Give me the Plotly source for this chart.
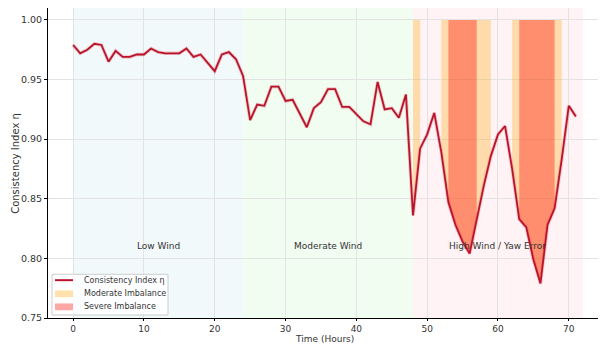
import plotly.graph_objects as go

# ---- data ----
hours = list(range(72))
eta = [0.979, 0.972, 0.975, 0.980, 0.979, 0.965, 0.974, 0.969, 0.969, 0.971,
       0.971, 0.976, 0.973, 0.972, 0.972, 0.972, 0.976, 0.969, 0.971, 0.964,
       0.957, 0.971, 0.973, 0.967, 0.953, 0.916, 0.929, 0.928, 0.944, 0.944,
       0.932, 0.933, 0.922, 0.910, 0.926, 0.931, 0.942, 0.942, 0.927, 0.927,
       0.921, 0.915, 0.9125, 0.948, 0.925, 0.926, 0.918, 0.9375, 0.836, 0.892,
       0.904, 0.922, 0.889, 0.847, 0.828, 0.814, 0.804, 0.833, 0.861, 0.886,
       0.904, 0.911, 0.875, 0.833, 0.826, 0.799, 0.779, 0.828, 0.842, 0.883,
       0.928, 0.919]

moderate_threshold = 0.90
severe_threshold = 0.85
fill_top = 1.0

regime_names = ["Low Wind", "Moderate Wind", "High Wind / Yaw Error"]
regime_starts = [0, 24, 48]
regime_ends = [24, 48, 72]
regime_colors = ["rgba(173,216,230,0.16)", "rgba(144,238,144,0.12)", "rgba(255,182,193,0.17)"]
regime_label_y = 0.81

x_ticks = [0, 10, 20, 30, 40, 50, 60, 70]
y_ticks = [0.75, 0.80, 0.85, 0.90, 0.95, 1.00]

legend_labels = ["Consistency Index η", "Moderate Imbalance", "Severe Imbalance"]

FONT = "DejaVu Sans"
LINE_COLOR = "#B8142C"
MOD_COLOR = "rgba(255,165,0,0.30)"
SEV_COLOR = "rgba(255,0,0,0.35)"


def runs(mask):
    out, cur = [], []
    for i, m in enumerate(mask):
        if m:
            cur.append(i)
        else:
            if cur:
                out.append(cur)
            cur = []
    if cur:
        out.append(cur)
    return [r for r in out if len(r) >= 2]


fig = go.Figure()


def add_band(threshold, color, name):
    for r in runs([v < threshold for v in eta]):
        xs = [hours[i] for i in r] + [hours[i] for i in reversed(r)]
        ys = [eta[i] for i in r] + [fill_top] * len(r)
        fig.add_trace(go.Scatter(
            x=xs, y=ys, fill="toself", fillcolor=color, mode="lines",
            line=dict(width=0, color=color), name=name,
            showlegend=False, hoverinfo="skip"))


add_band(moderate_threshold, MOD_COLOR, legend_labels[1])
add_band(severe_threshold, SEV_COLOR, legend_labels[2])

fig.add_trace(go.Scatter(x=hours, y=eta, mode="lines", showlegend=False,
                         line=dict(color="rgba(220,40,60,0.25)", width=3.5), hoverinfo="skip"))
fig.add_trace(go.Scatter(x=hours, y=eta, mode="lines", name=legend_labels[0],
                         line=dict(color=LINE_COLOR, width=1.8), showlegend=False))

shapes = []
for s, e, c in zip(regime_starts, regime_ends, regime_colors):
    shapes.append(dict(type="rect", xref="x", yref="paper", x0=s, x1=e, y0=0, y1=1,
                       fillcolor=c, line=dict(width=0), layer="below"))

# compact legend box (paper coordinates)
shapes.append(dict(type="rect", xref="paper", yref="paper", x0=0.0072, x1=0.217,
                   y0=0.0096, y1=0.141, fillcolor="rgba(255,255,255,0.85)",
                   line=dict(color="#cccccc", width=1), layer="above"))
entry_y = [0.122, 0.078, 0.036]
sw_x0, sw_x1 = 0.0127, 0.0452
shapes.append(dict(type="line", xref="paper", yref="paper", x0=sw_x0, x1=sw_x1,
                   y0=entry_y[0], y1=entry_y[0], line=dict(color=LINE_COLOR, width=2),
                   layer="above"))
for ey, col in zip(entry_y[1:], ["rgba(255,165,0,0.33)", "rgba(255,0,0,0.35)"]):
    shapes.append(dict(type="rect", xref="paper", yref="paper", x0=sw_x0, x1=sw_x1,
                       y0=ey - 0.011, y1=ey + 0.011, fillcolor=col,
                       line=dict(width=0), layer="above"))

annotations = []
for ey, lab in zip(entry_y, legend_labels):
    annotations.append(dict(x=0.0615, y=ey, xref="paper", yref="paper", text=lab,
                            showarrow=False, xanchor="left", yanchor="middle",
                            font=dict(family=FONT, size=8, color="#333")))
for s, e, n in zip(regime_starts, regime_ends, regime_names):
    annotations.append(dict(x=(s + e) / 2, y=regime_label_y, xref="x", yref="y", text=n,
                            showarrow=False, font=dict(family=FONT, size=9, color="#333")))
annotations.append(dict(x=0.5, y=1.0, xref="paper", yref="paper", yshift=-338,
                        text="Time (Hours)", showarrow=False, yanchor="bottom",
                        font=dict(family=FONT, size=9, color="#333")))
annotations.append(dict(x=-0.06, y=0.5, xref="paper", yref="paper", text="Consistency Index η",
                        showarrow=False, textangle=-90, xanchor="center",
                        font=dict(family=FONT, size=10, color="#333")))

fig.update_layout(
    width=598, height=339,
    margin=dict(l=40, r=5, t=0, b=29),
    plot_bgcolor="white", paper_bgcolor="white",
    font=dict(family=FONT, size=9, color="#333"),
    shapes=shapes, annotations=annotations,
    showlegend=False,
    xaxis=dict(range=[-3.55, 74.55], tickvals=x_ticks, showgrid=True, gridcolor="#E3E3E3",
               gridwidth=1, zeroline=False, showline=True, linecolor="black", linewidth=1,
               ticks="outside", ticklen=2, tickcolor="black",
               tickfont=dict(family=FONT, size=9, color="#333")),
    yaxis=dict(range=[0.75, 1.01], tickvals=y_ticks, tickformat=".2f", showgrid=True,
               gridcolor="#E3E3E3", gridwidth=1, zeroline=False, showline=True,
               linecolor="black", linewidth=1, ticks="outside", ticklen=3, tickcolor="black",
               tickfont=dict(family=FONT, size=9.5, color="#333")),
)

fig.write_html("out.html")
